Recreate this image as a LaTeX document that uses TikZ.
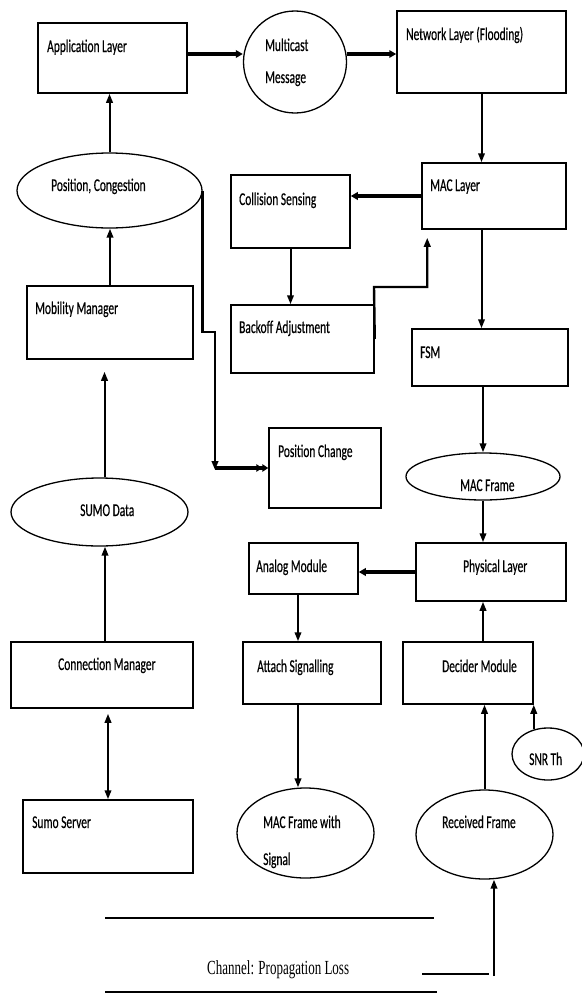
\documentclass[tikz,border=0pt]{standalone}
\usepackage{fontspec}
\setmainfont[FakeStretch=0.635,FakeBold=0.4]{Carlito}
\newfontfamily\chfont[FakeStretch=0.65]{Liberation Serif}
\usetikzlibrary{arrows.meta,shapes.geometric,fit,calc}
\begin{document}
\begin{tikzpicture}[x=1pt,y=-1pt,
  box/.style={draw, line width=1.5pt, inner sep=0pt},
  ell/.style={draw, ellipse, line width=1.3pt, inner sep=0pt},
  lbl/.style={inner sep=0pt, anchor=base west, font=\fontsize{18}{20}\selectfont},
  arr/.style={line width=2pt, -{Triangle[length=9pt,width=6.5pt]}},
  tarr/.style={line width=3.2pt, -{Triangle[length=7pt,width=7.5pt]}},
  marr/.style={line width=2.4pt, -{Triangle[length=9pt,width=6.5pt]}},
  darr/.style={line width=3.2pt, -{Triangle[length=6pt,width=7.5pt] Triangle[length=6pt,width=7.5pt]}},
  dbl/.style={line width=2pt, {Triangle[length=9pt,width=6.5pt]}-{Triangle[length=9pt,width=6.5pt]}},
  plain/.style={line width=1.5pt}]
\useasboundingbox (0,0) rectangle (581,993);

% boxes
\node[box, fit={(38,23)(187,93)}] (app) {};
\node[box, fit={(397,11)(566,93)}] (net) {};
\node[box, fit={(422,163)(566,229)}] (mac) {};
\node[box, fit={(231,175)(350,248)}] (col) {};
\node[box, fit={(231,305)(374,373)}] (back) {};
\node[box, fit={(412,329)(568,386)}] (fsm) {};
\node[box, fit={(269,428)(381,508)}] (pch) {};
\node[box, fit={(416,543)(566,601)}] (phy) {};
\node[box, fit={(249,543)(358,594)}] (ana) {};
\node[box, fit={(243,642)(381,704)}] (att) {};
\node[box, fit={(403,642)(533,704)}] (dec) {};
\node[box, fit={(27,286)(193,359)}] (mob) {};
\node[box, fit={(11,642)(193,708)}] (con) {};
\node[box, fit={(23,800)(193,873)}] (srv) {};

% ellipses
\node[ell, minimum width=103pt, minimum height=102pt] (multi) at (295,62) {};
\node[ell, minimum width=185pt, minimum height=75pt] (posc) at (109.5,190.5) {};
\node[ell, minimum width=177pt, minimum height=68pt] (sumo) at (99.5,512) {};
\node[ell, minimum width=154pt, minimum height=47pt] (macf) at (483,476.5) {};
\node[ell, minimum width=137pt, minimum height=90pt] (mfs) at (305.5,833) {};
\node[ell, minimum width=137pt, minimum height=89pt] (rcv) at (484.5,834.5) {};
\node[ell, minimum width=72pt, minimum height=52pt] (snr) at (548,754) {};

% texts
\node[lbl] (t1) at (47,52) {Application Layer};
\node[lbl] (t2) at (265,51) {Multicast};
\node[lbl] (t3) at (265,83) {Message};
\node[lbl] (t4) at (406,40) {Network Layer (Flooding)};
\node[lbl] (t5) at (430,191) {MAC Layer};
\node[lbl] (t6) at (239,205) {Collision Sensing};
\node[lbl] (t7) at (239,333) {Backoff Adjustment};
\node[lbl] (t8) at (420,358) {FSM};
\node[lbl] (t9) at (51,191) {Position, Congestion};
\node[lbl] (t10) at (35,314) {Mobility Manager};
\node[lbl] (t11) at (80,516) {SUMO Data};
\node[lbl] (t12) at (278,457) {Position Change};
\node[lbl] (t13) at (460,491) {MAC Frame};
\node[lbl] (t14) at (463,572) {Physical Layer};
\node[lbl] (t15) at (256,572) {Analog Module};
\node[lbl] (t16) at (257,672) {Attach Signalling};
\node[lbl] (t17) at (442,672) {Decider Module};
\node[lbl] (t18) at (529,765) {SNR Th};
\node[lbl] (t19) at (263,828) {MAC Frame with};
\node[lbl] (t20) at (263,865) {Signal};
\node[lbl] (t21) at (442,828) {Received Frame};
\node[lbl] (t22) at (58,670) {Connection Manager};
\node[lbl] (t23) at (32,828) {Sumo Server};
\node[inner sep=0pt, anchor=base west, font=\chfont\fontsize{20}{22}\selectfont] (t24) at (207,974) {Channel: Propagation Loss};

% connectors
\draw[tarr] ([yshift=4pt]app.east) -- ([yshift=4pt]app.east -| multi.west);
\draw[tarr] ([yshift=8pt]multi.east) -- ([yshift=8pt]multi.east -| net.west);
\draw[arr] (net.south) -- (net.south |- mac.north);
\draw[tarr] (mac.west) -- (mac.west -| col.east);
\draw[arr] (col.south) -- (col.south |- back.north);
\coordinate (bm) at (374,287);
\draw[marr] (back.east) -- (bm) -| ([xshift=6pt,yshift=-8pt]mac.south west);
\draw[arr] (mac.south -| net.south) -- (fsm.north -| net.south);
\draw[arr] (fsm.south -| macf.north) -- (macf.north);
\draw[arr] (macf.south) -- (macf.south |- phy.north);
\draw[tarr] (phy.west) -- (phy.west -| ana.east);
\coordinate (ax) at (298,594);
\draw[arr] (ax) -- (ax |- att.north);
\draw[arr] (ax |- att.south) -- (ax |- mfs.north);
\draw[arr] (dec.north -| macf.south) -- (phy.south -| macf.south);
\draw[arr] (rcv.north) -- (rcv.north |- dec.south);
\draw[arr] ([yshift=-2pt]snr.north -| dec.east) -- (dec.south east);
\draw[arr] (mob.north) -- (mob.north |- posc.south);
\draw[arr] (posc.north) -- (posc.north |- app.south);
\coordinate (sm) at ($(mob.south -| sumo.north)+(5,12)$);
\draw[arr] ([xshift=5pt]sumo.north) -- (sm);
\draw[arr] ([xshift=3pt]con.north) -- ([xshift=3pt]con.north |- sumo.south);
\coordinate (cs) at ($(con.south -| srv.north)+(0,5)$);
\draw[dbl] (cs) -- (srv.north);
\coordinate (j1) at (215,332);
\coordinate (j2) at (215,470);
\draw[marr] (posc.east) |- (j1) -- (j2);
\draw[darr] ([yshift=2pt]j2) -- ([yshift=2pt]j2 -| pch.west);
\coordinate (ch) at (494,976);
\draw[arr] (ch) -- (ch |- rcv.south);

% channel lines
\coordinate (l1a) at (105,918);
\coordinate (l1b) at (434,918);
\coordinate (l2a) at (105,992);
\coordinate (l2b) at (437,992);
\coordinate (l3a) at (422,974);
\coordinate (l3b) at (489,974);
\draw[plain] (l1a) -- (l1b);
\draw[plain] (l2a) -- (l2b);
\draw[plain] (l3a) -- (l3b);
\end{tikzpicture}
\end{document}
